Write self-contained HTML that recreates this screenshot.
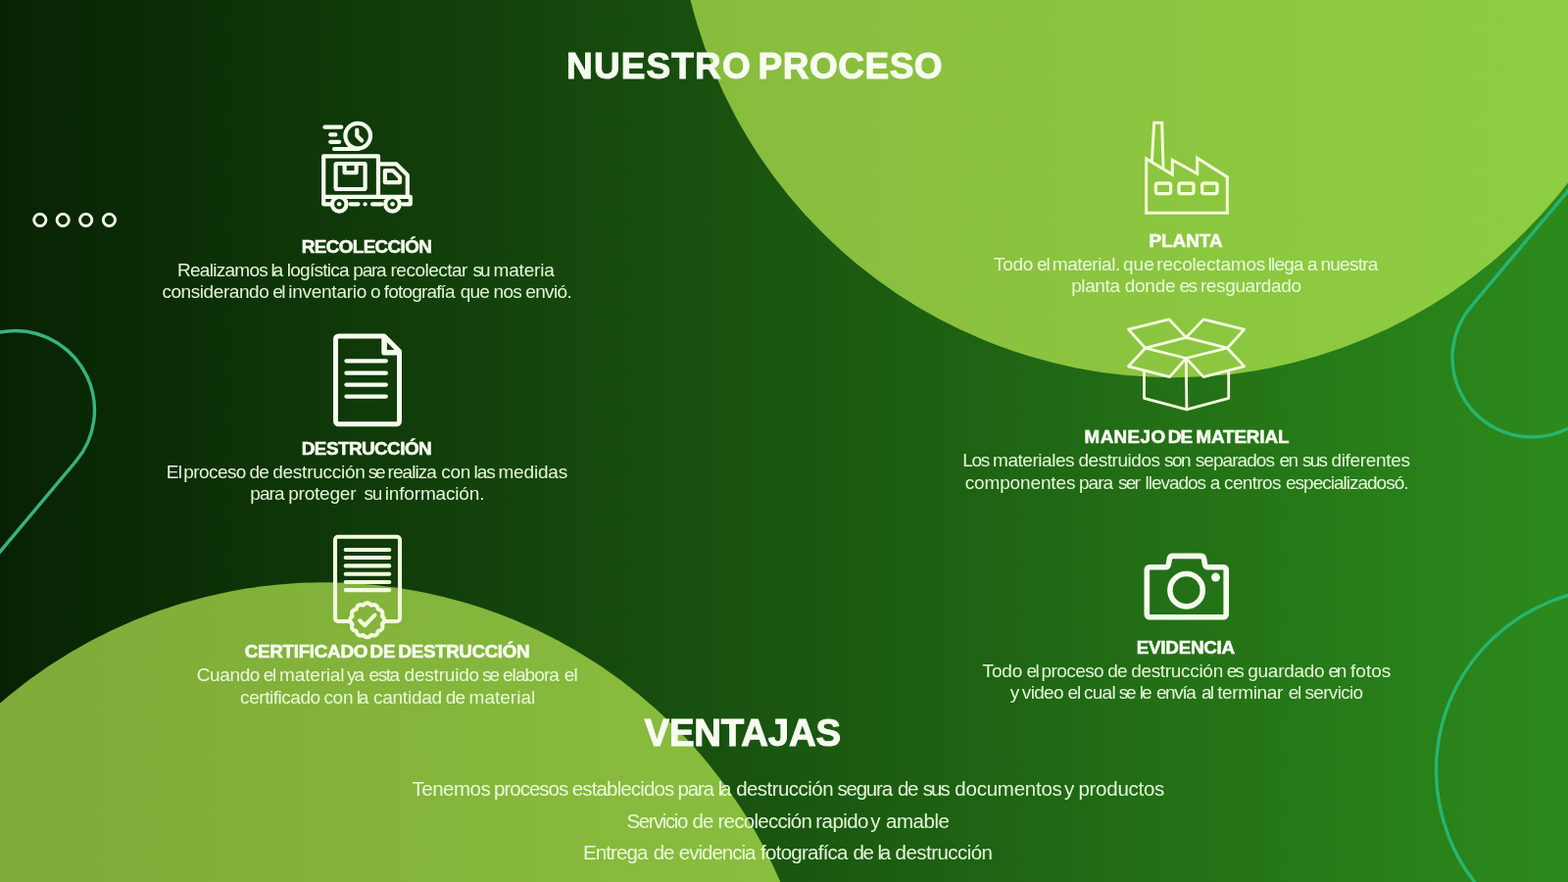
<!DOCTYPE html>
<html lang="es">
<head>
<meta charset="utf-8">
<title>Nuestro Proceso</title>
<style>
html,body{margin:0;padding:0;background:#0a2a06;}
body{width:1600px;height:900px;overflow:hidden;}
#stage{position:relative;width:1600px;height:900px;overflow:hidden;background:linear-gradient(90deg,#072203 0%,#1a5610 50%,#2c8a1c 100%);font-family:"Liberation Sans",Arial,sans-serif;}
#stage svg{position:absolute;left:0;top:0;width:1600px;height:900px;display:block;}
.t{position:absolute;margin:0;padding:0;white-space:nowrap;line-height:1;color:#fff;}
.h{font-weight:700;color:#f7fdf0;-webkit-text-stroke:0.6px #f7fdf0;}
.big{-webkit-text-stroke:1px #f7fdf0;}
.b{font-weight:400;color:rgba(236,255,224,.96);}
#copy{position:absolute;left:0;top:0;width:1600px;height:900px;will-change:transform;}

</style>
</head>
<body>
<main id="stage">
<svg width="1600" height="900" viewBox="0 0 1600 900">
<defs>
<linearGradient id="lg" gradientUnits="userSpaceOnUse" x1="0" y1="0" x2="1600" y2="0">
<stop offset="0" stop-color="#7fab39"/>
<stop offset="0.625" stop-color="#8bc23f"/>
<stop offset="1" stop-color="#8ece42"/>
</linearGradient>
</defs>
<circle cx="1197.1" cy="-122.3" r="507.5" fill="url(#lg)"/>
<circle cx="331.3" cy="1100.8" r="506.6" fill="url(#lg)"/>
<g fill="none" stroke-width="3.4" stroke-linecap="round">
<path stroke="#37b37e" d="M-10 341.8 A81 81 0 0 1 15.5 337.5 A81 81 0 0 1 77.5 470.6 L-10.0 574.9"/>
<path stroke="#27b572" d="M1612.0 180.6 L1501.0 312.9 A81 81 0 0 0 1563 446 A81 81 0 0 0 1612 429.5"/>
<circle stroke="#27b572" cx="1651" cy="786" r="185.5"/>
</g>
<g fill="none" stroke="#f3fbe9" stroke-width="2.9">
<circle cx="40.8" cy="224.5" r="6.1"/>
<circle cx="64.2" cy="224.5" r="6.1"/>
<circle cx="87.7" cy="224.5" r="6.1"/>
<circle cx="111.4" cy="224.5" r="6.1"/>
</g>
<!-- truck -->
<g fill="none" stroke="#f6fcee" stroke-width="4.2" stroke-linecap="round" stroke-linejoin="round">
<path d="M331.4 129.7H348.3 M337.2 137.4H342.4 M337.2 144.8H346.2 M341 152H366"/>
<circle cx="365.2" cy="138.6" r="12.8"/>
<path d="M364.3 132.6V138.8L369.2 143.4"/>
<path d="M330.2 200.6V159.3H386V200.6"/>
<path d="M386 167.3H404.3L415.8 178.8V200.6"/>
<path d="M392.9 174.2H401.2L408 181V186.1H392.9Z"/>
<rect x="342.6" y="167" width="30" height="26" rx="1"/>
<path d="M351.6 167.8V176.2H363.6V167.8"/>
<path d="M330.2 200.8H418.8V208.3H411 M337 208.3H330.2V200.8 M357.5 208.3H365.5 M372.5 208.3H372.7 M380 208.3H389.5"/>
<circle cx="346.2" cy="208.3" r="7.3"/>
<circle cx="400.5" cy="208.3" r="7.3"/>
</g>
<g fill="#f6fcee"><circle cx="346.1" cy="208.3" r="2.3"/><circle cx="400.5" cy="208.3" r="2.3"/></g>
<!-- document -->
<g fill="none" stroke="#f6fcee" stroke-width="5" stroke-linecap="round" stroke-linejoin="round">
<path d="M345.5 343H392L407.5 358.5V429.8a3 3 0 0 1 -3 3H345.5a3 3 0 0 1 -3 -3V346a3 3 0 0 1 3 -3Z"/>
<path d="M392.1 344V359.7H406.5" stroke-width="5.6"/>
</g>
<g fill="none" stroke="#f6fcee" stroke-width="4.2" stroke-linecap="round">
<path d="M353.4 368.3H393.9 M353.4 380.7H393.9 M353.4 392.6H393.9 M353.4 404.6H393.9"/>
</g>
<!-- certificate -->
<g fill="none" stroke="#f3fcdc" stroke-width="4.1" stroke-linecap="round" stroke-linejoin="round">
<path d="M356.5 634H345a3 3 0 0 1 -3 -3V550.7a3 3 0 0 1 3 -3H405a3 3 0 0 1 3 3V631a3 3 0 0 1 -3 3H393"/>
<path d="M352.7 561H397.3 M352.7 569H397.3 M352.7 577.4H397.3 M352.7 585.7H397.3 M352.7 594H397.3 M352.7 602.1H397.3"/>
<path d="M392.2 632.8 L392.2 633.3 L392.1 633.7 L392.0 634.2 L391.8 634.6 L391.5 635.0 L391.3 635.4 L390.9 635.8 L390.6 636.2 L390.2 636.5 L389.9 636.9 L390.0 637.3 L390.2 637.8 L390.3 638.3 L390.3 638.8 L390.4 639.3 L390.4 639.8 L390.3 640.2 L390.2 640.7 L390.1 641.1 L389.9 641.5 L389.6 641.9 L389.3 642.3 L389.0 642.6 L388.6 642.9 L388.2 643.1 L387.7 643.3 L387.3 643.5 L386.8 643.7 L386.3 643.8 L385.8 643.9 L385.7 644.4 L385.6 644.9 L385.4 645.4 L385.2 645.8 L385.0 646.3 L384.8 646.7 L384.5 647.1 L384.2 647.4 L383.8 647.7 L383.4 648.0 L383.0 648.2 L382.6 648.3 L382.1 648.4 L381.7 648.5 L381.2 648.5 L380.7 648.4 L380.2 648.4 L379.7 648.3 L379.2 648.1 L378.8 648.0 L378.4 648.3 L378.1 648.7 L377.7 649.0 L377.3 649.4 L376.9 649.6 L376.5 649.9 L376.1 650.1 L375.6 650.2 L375.2 650.3 L374.7 650.3 L374.2 650.3 L373.8 650.2 L373.3 650.1 L372.9 649.9 L372.5 649.6 L372.1 649.4 L371.7 649.0 L371.3 648.7 L371.0 648.3 L370.6 648.0 L370.2 648.1 L369.7 648.3 L369.2 648.4 L368.7 648.4 L368.2 648.5 L367.7 648.5 L367.3 648.4 L366.8 648.3 L366.4 648.2 L365.9 648.0 L365.6 647.7 L365.2 647.4 L364.9 647.1 L364.6 646.7 L364.4 646.3 L364.2 645.8 L364.0 645.4 L363.8 644.9 L363.7 644.4 L363.6 643.9 L363.1 643.8 L362.6 643.7 L362.1 643.5 L361.7 643.3 L361.2 643.1 L360.8 642.9 L360.4 642.6 L360.1 642.3 L359.8 641.9 L359.5 641.5 L359.3 641.1 L359.2 640.7 L359.1 640.2 L359.0 639.8 L359.0 639.3 L359.1 638.8 L359.1 638.3 L359.2 637.8 L359.4 637.3 L359.5 636.9 L359.2 636.5 L358.8 636.2 L358.5 635.8 L358.1 635.4 L357.9 635.0 L357.6 634.6 L357.4 634.2 L357.3 633.7 L357.2 633.3 L357.2 632.8 L357.2 632.3 L357.3 631.9 L357.4 631.4 L357.6 631.0 L357.9 630.6 L358.1 630.2 L358.5 629.8 L358.8 629.4 L359.2 629.1 L359.5 628.7 L359.4 628.3 L359.2 627.8 L359.1 627.3 L359.1 626.8 L359.0 626.3 L359.0 625.8 L359.1 625.4 L359.2 624.9 L359.3 624.5 L359.5 624.0 L359.8 623.7 L360.1 623.3 L360.4 623.0 L360.8 622.7 L361.2 622.5 L361.7 622.3 L362.1 622.1 L362.6 621.9 L363.1 621.8 L363.6 621.7 L363.7 621.2 L363.8 620.7 L364.0 620.2 L364.2 619.8 L364.4 619.3 L364.6 618.9 L364.9 618.5 L365.2 618.2 L365.6 617.9 L365.9 617.6 L366.4 617.4 L366.8 617.3 L367.3 617.2 L367.7 617.1 L368.2 617.1 L368.7 617.2 L369.2 617.2 L369.7 617.3 L370.2 617.5 L370.6 617.6 L371.0 617.3 L371.3 616.9 L371.7 616.6 L372.1 616.2 L372.5 616.0 L372.9 615.7 L373.3 615.5 L373.8 615.4 L374.2 615.3 L374.7 615.3 L375.2 615.3 L375.6 615.4 L376.1 615.5 L376.5 615.7 L376.9 616.0 L377.3 616.2 L377.7 616.6 L378.1 616.9 L378.4 617.3 L378.8 617.6 L379.2 617.5 L379.7 617.3 L380.2 617.2 L380.7 617.2 L381.2 617.1 L381.7 617.1 L382.1 617.2 L382.6 617.3 L383.0 617.4 L383.4 617.6 L383.8 617.9 L384.2 618.2 L384.5 618.5 L384.8 618.9 L385.0 619.3 L385.2 619.8 L385.4 620.2 L385.6 620.7 L385.7 621.2 L385.8 621.7 L386.3 621.8 L386.8 621.9 L387.3 622.1 L387.7 622.3 L388.2 622.5 L388.6 622.7 L389.0 623.0 L389.3 623.3 L389.6 623.7 L389.9 624.0 L390.1 624.5 L390.2 624.9 L390.3 625.4 L390.4 625.8 L390.4 626.3 L390.3 626.8 L390.3 627.3 L390.2 627.8 L390.0 628.3 L389.9 628.7 L390.2 629.1 L390.6 629.4 L390.9 629.8 L391.3 630.2 L391.5 630.6 L391.8 631.0 L392.0 631.4 L392.1 631.9 L392.2 632.3Z"/>
<path d="M367.2 633.2L372.3 638.2L382.4 627.6"/>
</g>
<!-- factory -->
<g fill="none" stroke="#f4fdd8" stroke-width="3" stroke-linejoin="miter" stroke-linecap="square">
<path d="M1169.7 217.3V162L1196.3 178V163.3L1221.7 177.3V161.3L1252.3 180.7V217.3Z"/>
<path d="M1175.4 164.7L1177.7 125.3H1185.7L1187 171.3"/>
<rect x="1179.4" y="187" width="15.2" height="10.6" rx="2" stroke-width="3.3"/>
<rect x="1203" y="187" width="15" height="10.6" rx="2" stroke-width="3.3"/>
<rect x="1226.6" y="187" width="15.4" height="10.6" rx="2" stroke-width="3.3"/>
</g>
<!-- box -->
<g fill="none" stroke="#f4fde0" stroke-width="2.8" stroke-linejoin="round" stroke-linecap="round">
<path d="M1151.5 336.1L1193 325.9L1210.3 344.4L1168.7 355.2Z"/>
<path d="M1210.3 344.4L1228.1 325.9L1269.6 336.1L1252.4 355.2Z"/>
<path d="M1168.7 355.2L1210.3 365.5L1252.4 355.2"/>
<path d="M1168.7 355.2L1151.5 373.8L1193.6 384.6L1210.3 365.5"/>
<path d="M1252.4 355.2L1269.6 373.8L1228.1 384.6L1210.3 365.5"/>
<path d="M1167.5 380.1V406.3L1210.9 417.8L1253.7 406.3V380.1"/>
<path d="M1210.3 365.5L1210.9 417.8"/>
</g>
<!-- camera -->
<g fill="none" stroke="#f6fcee" stroke-width="5.6" stroke-linejoin="round" stroke-linecap="round">
<path d="M1173 578.8H1189.3q2.5 0 3 -2.5L1193.4 570.2q0.5 -2.8 3.3 -2.8H1225.2q2.8 0 3.3 2.8L1229.6 576.3q0.5 2.5 3 2.5H1248.5a2.7 2.7 0 0 1 2.7 2.7V627a2.7 2.7 0 0 1 -2.7 2.7H1173a2.7 2.7 0 0 1 -2.7 -2.7V581.5a2.7 2.7 0 0 1 2.7 -2.7Z"/>
<circle cx="1210.6" cy="602.2" r="16.7"/>
</g>
<circle cx="1240.5" cy="589.1" r="4.5" fill="#f6fcee"/>
</svg>

<div id="copy">
<p class="t h big" style="left:578.06px;top:48.98px;font-size:37.0px"><span style="letter-spacing:1.126px;margin-left:0.02px">NUESTRO</span> <span style="letter-spacing:0.507px;margin-left:-3.62px">PROCESO</span></p>
<p class="t h" style="left:307.80px;top:243.24px;font-size:18.8px;letter-spacing:-0.581px">RECOLECCIÓN</p>
<p class="t b" style="left:181.00px;top:265.72px;font-size:19px"><span style="letter-spacing:-0.718px">Realizamos</span> <span style="letter-spacing:-2.200px;margin-left:-1.89px">la</span> <span style="letter-spacing:-0.742px;margin-left:0.64px">logística</span> <span style="letter-spacing:-1.254px;margin-left:-0.81px">para</span> <span style="letter-spacing:-0.511px;margin-left:-0.10px">recolectar</span> <span style="letter-spacing:-2.000px;margin-left:0.41px">su</span> <span style="letter-spacing:-0.165px;margin-left:-0.36px">materia</span></p>
<p class="t b" style="left:165.40px;top:288.42px;font-size:19px"><span style="letter-spacing:-0.429px;margin-left:0.01px">considerando</span> <span style="letter-spacing:-1.467px;margin-left:-1.42px">el</span> <span style="letter-spacing:-0.257px;margin-left:-1.14px">inventario</span> <span style="letter-spacing:0.000px;margin-left:-1.26px">o</span> <span style="letter-spacing:-0.823px;margin-left:-2.21px">fotografía</span> <span style="letter-spacing:-0.767px;margin-left:0.57px">que</span> <span style="letter-spacing:-0.717px;margin-left:-0.79px">nos</span> <span style="letter-spacing:-0.624px;margin-left:-1.07px">envió.</span></p>
<p class="t h" style="left:307.80px;top:448.69px;font-size:18.8px;letter-spacing:-0.497px">DESTRUCCIÓN</p>
<p class="t b" style="left:169.70px;top:471.92px;font-size:19px"><span style="letter-spacing:-0.673px;margin-left:0.01px">El</span> <span style="letter-spacing:-0.571px;margin-left:-3.34px">proceso</span> <span style="letter-spacing:-0.967px;margin-left:-1.49px">de</span> <span style="letter-spacing:-0.249px;margin-left:-0.88px">destrucción</span> <span style="letter-spacing:-2.200px;margin-left:-2.17px">se</span> <span style="letter-spacing:-0.951px;margin-left:-1.20px">realiza</span> <span style="letter-spacing:-0.233px;margin-left:0.09px">con</span> <span style="letter-spacing:-0.944px;margin-left:-2.02px">las</span> <span style="letter-spacing:-0.169px;margin-left:-1.75px">medidas</span></p>
<p class="t b" style="left:255.20px;top:494.42px;font-size:19px"><span style="letter-spacing:-0.854px;margin-left:0.01px">para</span> <span style="letter-spacing:-0.206px;margin-left:-0.91px">proteger</span> <span style="letter-spacing:-1.200px;margin-left:2.89px">su</span> <span style="letter-spacing:-0.165px;margin-left:-1.65px">información.</span></p>
<p class="t h" style="left:249.70px;top:656.14px;font-size:18.8px"><span style="letter-spacing:-0.272px;margin-left:0.01px">CERTIFICADO</span> <span style="letter-spacing:0.037px;margin-left:-2.76px">DE</span> <span style="letter-spacing:-0.387px;margin-left:-2.29px">DESTRUCCIÓN</span></p>
<p class="t b" style="left:200.80px;top:679.42px;font-size:19px"><span style="letter-spacing:-0.398px">Cuando</span> <span style="letter-spacing:-1.267px;margin-left:-1.55px">el</span> <span style="letter-spacing:-0.179px;margin-left:-1.15px">material</span> <span style="letter-spacing:-2.000px;margin-left:-2.54px">ya</span> <span style="letter-spacing:-1.500px;margin-left:1.22px">esta</span> <span style="letter-spacing:-0.187px;margin-left:0.72px">destruido</span> <span style="letter-spacing:-2.200px;margin-left:-2.17px">se</span> <span style="letter-spacing:-0.903px;margin-left:-0.15px">elabora</span> <span style="letter-spacing:-0.767px;margin-left:0.46px">el</span></p>
<p class="t b" style="left:245.10px;top:702.42px;font-size:19px"><span style="letter-spacing:-0.453px;margin-left:0.01px">certificado</span> <span style="letter-spacing:-0.283px;margin-left:-1.61px">con</span> <span style="letter-spacing:-2.200px;margin-left:-1.84px">la</span> <span style="letter-spacing:-0.224px;margin-left:1.59px">cantidad</span> <span style="letter-spacing:-0.767px;margin-left:-1.53px">de</span> <span style="letter-spacing:0.006px;margin-left:-0.99px">material</span></p>
<p class="t h" style="left:1172.40px;top:237.14px;font-size:18.8px;letter-spacing:0.059px">PLANTA</p>
<p class="t b" style="left:1014.00px;top:259.52px;font-size:19px"><span style="letter-spacing:-0.311px">Todo</span> <span style="letter-spacing:-1.167px;margin-left:-1.25px">el</span> <span style="letter-spacing:-0.397px;margin-left:-2.05px">material.</span> <span style="letter-spacing:0.033px;margin-left:-2.28px">que</span> <span style="letter-spacing:-0.181px;margin-left:-2.79px">recolectamos</span> <span style="letter-spacing:-0.794px;margin-left:-2.81px">llega</span> <span style="letter-spacing:0.000px;margin-left:-1.12px">a</span> <span style="letter-spacing:-0.734px;margin-left:-2.41px">nuestra</span></p>
<p class="t b" style="left:1093.20px;top:281.92px;font-size:19px"><span style="letter-spacing:-0.400px;margin-left:0.01px">planta</span> <span style="letter-spacing:-0.242px;margin-left:-0.16px">donde</span> <span style="letter-spacing:-1.567px;margin-left:-1.01px">es</span> <span style="letter-spacing:-0.362px;margin-left:-0.92px">resguardado</span></p>
<p class="t h" style="left:1106.60px;top:437.19px;font-size:18.8px"><span style="letter-spacing:0.410px;margin-left:0.01px">MANEJO</span> <span style="letter-spacing:-0.763px;margin-left:-2.94px">DE</span> <span style="letter-spacing:-0.108px;margin-left:-1.00px">MATERIAL</span></p>
<p class="t b" style="left:982.20px;top:459.92px;font-size:19px"><span style="letter-spacing:-1.317px;margin-left:0.01px">Los</span> <span style="letter-spacing:-0.471px;margin-left:-1.07px">materiales</span> <span style="letter-spacing:-0.440px;margin-left:-0.92px">destruidos</span> <span style="letter-spacing:-1.533px;margin-left:-0.95px">son</span> <span style="letter-spacing:-0.929px;margin-left:0.37px">separados</span> <span style="letter-spacing:-1.467px;margin-left:0.14px">en</span> <span style="letter-spacing:-1.800px;margin-left:0.08px">sus</span> <span style="letter-spacing:-0.304px;margin-left:-0.12px">diferentes</span></p>
<p class="t b" style="left:984.70px;top:483.32px;font-size:19px"><span style="letter-spacing:-0.137px;margin-left:0.01px">componentes</span> <span style="letter-spacing:-0.920px;margin-left:-1.66px">para</span> <span style="letter-spacing:-1.783px;margin-left:0.46px">ser</span> <span style="letter-spacing:-1.016px;margin-left:1.17px">llevados</span> <span style="letter-spacing:0.000px;margin-left:-0.57px">a</span> <span style="letter-spacing:-0.651px;margin-left:-1.56px">centros</span> <span style="letter-spacing:-1.000px;margin-left:-0.13px">especializadosó.</span></p>
<p class="t h" style="left:1159.80px;top:651.59px;font-size:18.8px;letter-spacing:-0.238px">EVIDENCIA</p>
<p class="t b" style="left:1002.50px;top:674.52px;font-size:19px"><span style="letter-spacing:-0.111px">Todo</span> <span style="letter-spacing:-1.467px;margin-left:-1.15px">el</span> <span style="letter-spacing:-0.571px;margin-left:-2.04px">proceso</span> <span style="letter-spacing:-0.667px;margin-left:-1.19px">de</span> <span style="letter-spacing:-0.309px;margin-left:-1.19px">destrucción</span> <span style="letter-spacing:-2.167px;margin-left:-1.45px">es</span> <span style="letter-spacing:-0.261px;margin-left:0.48px">guardado</span> <span style="letter-spacing:-2.200px;margin-left:-1.33px">en</span> <span style="letter-spacing:-0.002px;margin-left:0.68px">fotos</span></p>
<p class="t b" style="left:1030.70px;top:696.92px;font-size:19px"><span style="letter-spacing:0.000px;margin-left:0.01px">y</span> <span style="letter-spacing:-0.664px;margin-left:-2.68px">video</span> <span style="letter-spacing:-1.167px;margin-left:-0.59px">el</span> <span style="letter-spacing:-0.745px;margin-left:-1.35px">cual</span> <span style="letter-spacing:-2.200px;margin-left:-1.36px">se</span> <span style="letter-spacing:-1.921px;margin-left:0.05px">le</span> <span style="letter-spacing:-1.378px;margin-left:0.87px">envía</span> <span style="letter-spacing:-1.967px;margin-left:1.32px">al</span> <span style="letter-spacing:-0.365px;margin-left:-0.04px">terminar</span> <span style="letter-spacing:-1.467px;margin-left:0.55px">el</span> <span style="letter-spacing:-0.677px;margin-left:-0.44px">servicio</span></p>
<p class="t h big" style="left:657.50px;top:728.99px;font-size:38.4px;letter-spacing:-0.191px">VENTAJAS</p>
<p class="t b" style="left:420.50px;top:795.15px;font-size:20.5px"><span style="letter-spacing:-0.489px">Tenemos</span> <span style="letter-spacing:-0.990px;margin-left:-1.97px">procesos</span> <span style="letter-spacing:-0.865px;margin-left:-1.17px">establecidos</span> <span style="letter-spacing:-1.210px;margin-left:-1.60px">para</span> <span style="letter-spacing:-2.374px;margin-left:-0.70px">la</span> <span style="letter-spacing:-0.543px;margin-left:1.47px">destrucción</span> <span style="letter-spacing:-1.216px;margin-left:-1.26px">segura</span> <span style="letter-spacing:-1.401px;margin-left:0.51px">de</span> <span style="letter-spacing:-1.942px">sus</span> <span style="letter-spacing:-0.237px;margin-left:0.80px">documentos</span> <span style="letter-spacing:0.000px;margin-left:-3.32px">y</span> <span style="letter-spacing:-0.272px;margin-left:-1.55px">productos</span></p>
<p class="t b" style="left:639.49px;top:827.65px;font-size:20.5px"><span style="letter-spacing:-1.441px">Servicio</span> <span style="letter-spacing:-1.001px;margin-left:0.02px">de</span> <span style="letter-spacing:-0.739px;margin-left:-0.62px">recolección</span> <span style="letter-spacing:-0.557px;margin-left:-1.47px">rapido</span> <span style="letter-spacing:0.000px;margin-left:-3.46px">y</span> <span style="letter-spacing:-0.447px;margin-left:-0.15px">amable</span></p>
<p class="t b" style="left:595.00px;top:860.15px;font-size:20.5px"><span style="letter-spacing:-0.900px">Entrega</span> <span style="letter-spacing:-1.001px;margin-left:0.48px">de</span> <span style="letter-spacing:-1.002px;margin-left:-0.42px">evidencia</span> <span style="letter-spacing:-0.746px;margin-left:-0.01px">fotografíca</span> <span style="letter-spacing:-1.301px;margin-left:0.02px">de</span> <span style="letter-spacing:-2.374px;margin-left:-0.95px">la</span> <span style="letter-spacing:-0.543px;margin-left:1.22px">destrucción</span></p>
</div>
</main>
</body>
</html>
